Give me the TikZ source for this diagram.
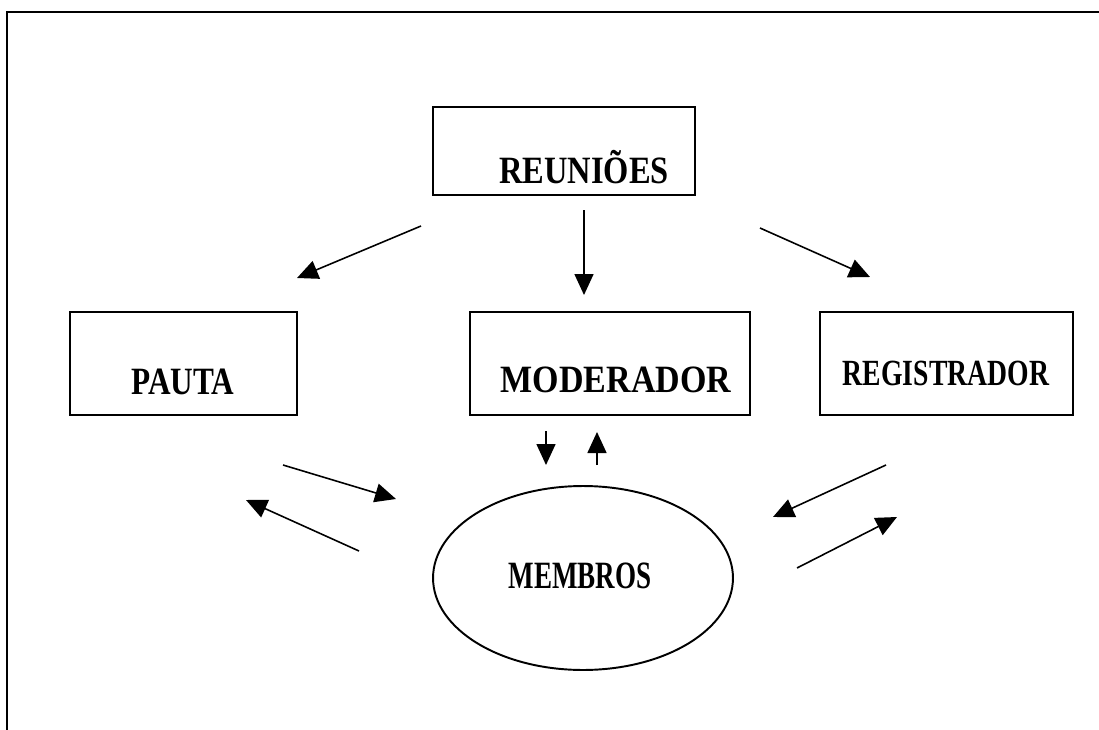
\documentclass[tikz,border=0pt]{standalone}
\usepackage{fontspec}
\setmainfont{Liberation Serif}
\usetikzlibrary{arrows.meta,shapes.geometric}

\begin{document}
\begin{tikzpicture}[x=0.02cm, y=-0.02cm,
		box/.style={rectangle, draw=black, line width=1.1pt, inner sep=0pt},
		lbl/.style={font=\fontsize{22}{26}\selectfont\bfseries, xscale=#1, transform shape, inner sep=0pt, anchor=base},
		arr/.style={line width=0.9pt, -{Triangle[length=0.42cm, width=0.38cm]}}
	]
		\useasboundingbox (0,0) rectangle (1099,730);

		% outer frame
		\draw[line width=1.2pt] (7,740) -- (7,12) -- (1110,12);

		% boxes
		\node[box, minimum width=5.24cm, minimum height=1.76cm] (reun) at (564,151) {};
		\node[box, minimum width=4.54cm, minimum height=2.06cm] (paut) at (183.5,363.5) {};
		\node[box, minimum width=5.6cm, minimum height=2.06cm] (mode) at (610,363.5) {};
		\node[box, minimum width=5.06cm, minimum height=2.06cm] (regi) at (946.5,363.5) {};
		\node[box, ellipse, minimum width=6cm, minimum height=3.68cm] (memb) at (583,578) {};

		% texts
		\node[lbl=0.84] (reunT) at (584,183) {REUNIÕES};
		\node[lbl=0.81] (pautT) at (183,394) {PAUTA};
		\node[lbl=0.88] (modeT) at (616,392) {MODERADOR};
		\node[lbl=0.75, font=\fontsize{21}{25}\selectfont\bfseries] (regiT) at (946,385) {REGISTRADOR};
		\node[lbl=0.7] (membT) at (580,588) {MEMBROS};

		% arrow ends
		\coordinate (rp1) at (421,226); \coordinate (rp2) at (297,278);
		\coordinate (rm1) at (584,210); \coordinate (rm2) at (584,295);
		\coordinate (rr1) at (760,228); \coordinate (rr2) at (870,277);
		\coordinate (md1) at (546,431); \coordinate (md2) at (546,465);
		\coordinate (mu1) at (597,465); \coordinate (mu2) at (597,432);
		\coordinate (pm1) at (283,465); \coordinate (pm2) at (396,499);
		\coordinate (mp1) at (359,551); \coordinate (mp2) at (246,500);
		\coordinate (gm1) at (886,465); \coordinate (gm2) at (773,517);
		\coordinate (mg1) at (797,568); \coordinate (mg2) at (897,517);

		\draw[arr] (rp1) -- (rp2);
		\draw[arr] (rm1) -- (rm2);
		\draw[arr] (rr1) -- (rr2);
		\draw[arr] (md1) -- (md2);
		\draw[arr] (mu1) -- (mu2);
		\draw[arr] (pm1) -- (pm2);
		\draw[arr] (mp1) -- (mp2);
		\draw[arr] (gm1) -- (gm2);
		\draw[arr] (mg1) -- (mg2);
	\end{tikzpicture}
\end{document}
